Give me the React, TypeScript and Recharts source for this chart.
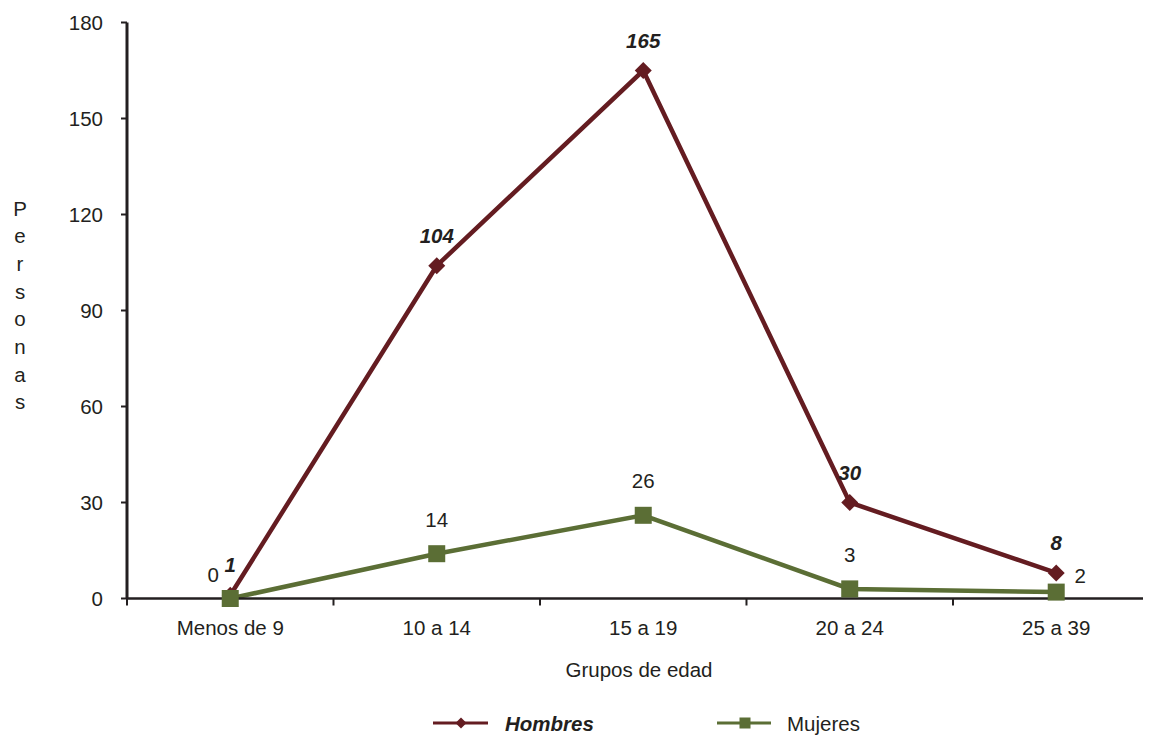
import React from "react";
import {
	LineChart,
	Line,
	XAxis,
	YAxis,
	Legend,
} from "recharts";

const categories = ["Menos de 9", "10 a 14", "15 a 19", "20 a 24", "25 a 39"];
const hombres = [1, 104, 165, 30, 8];
const mujeres = [0, 14, 26, 3, 2];
const yTicks = [0, 30, 60, 90, 120, 150, 180];

const MAROON = "#641C21";
const GREEN = "#5B6E35";
const INK = "#231F20";
const FONT = "'Liberation Sans', Arial, sans-serif";
const FS = 20.5;

// each group sits in the middle of its slot, tick marks go between slots
const data = categories.map((group, i) => ({
	group,
	pos: i + 0.5,
	hombres: hombres[i],
	mujeres: mujeres[i],
}));
const xTicks = categories.flatMap((_, i) => [i, i + 0.5]);

const Diamond = (props: any) => {
	const { cx, cy } = props;
	const r = 8.5;
	return (
		<path
			d={`M${cx},${cy - r}L${cx + r},${cy}L${cx},${cy + r}L${cx - r},${cy}Z`}
			fill={MAROON}
		/>
	);
};

const Square = (props: any) => {
	const { cx, cy } = props;
	const s = 17;
	return <rect x={cx - s / 2} y={cy - s / 2} width={s} height={s} fill={GREEN} />;
};

const XTick = (props: any) => {
	const { x, y, payload } = props;
	const v = payload.value;
	if (Number.isInteger(v)) {
		return <line x1={x} y1={y} x2={x} y2={y + 7} stroke={INK} strokeWidth={2} />;
	}
	return (
		<text x={x} y={y + 36.5} textAnchor="middle" fontSize={FS} fill={INK} fontFamily={FONT}>
			{categories[v - 0.5]}
		</text>
	);
};

const hombresLabel = (props: any) => {
	const { x, y, value } = props;
	return (
		<text
			x={x}
			y={y - 23}
			textAnchor="middle"
			fontSize={FS}
			fontWeight="bold"
			fontStyle="italic"
			fill={INK}
			fontFamily={FONT}
		>
			{value}
		</text>
	);
};

const mujeresLabel = (props: any) => {
	const { x, y, value, index } = props;
	let dx = 0;
	let dy = -27;
	if (index === 0) {
		dx = -17;
		dy = -17;
	} else if (index === categories.length - 1) {
		dx = 24;
		dy = -9;
	}
	return (
		<text x={x + dx} y={y + dy} textAnchor="middle" fontSize={FS} fill={INK} fontFamily={FONT}>
			{value}
		</text>
	);
};

const yLabel = () => (
	<text x={12} textAnchor="middle" fontSize={FS} fill={INK} fontFamily={FONT}>
		{"Personas".split("").map((ch, i) => (
			<tspan key={i} x={12} y={207.5 + i * 27.7}>
				{ch}
			</tspan>
		))}
	</text>
);

const legendContent = () => (
	<svg width={1143} height={28}>
		<line x1={425} y1={13} x2={480} y2={13} stroke={MAROON} strokeWidth={3} />
		<path d="M453,7.5L458.5,13L453,18.5L447.5,13Z" fill={MAROON} />
		<text x={497} y={21} fontSize={FS} fontWeight="bold" fontStyle="italic" fill={INK} fontFamily={FONT}>
			Hombres
		</text>
		<line x1={709} y1={13} x2={763} y2={13} stroke={GREEN} strokeWidth={3} />
		<rect x={731.5} y={7.5} width={11} height={11} fill={GREEN} />
		<text x={779} y={21} fontSize={FS} fill={INK} fontFamily={FONT}>
			Mujeres
		</text>
	</svg>
);

export default function App() {
	return (
		<div style={{ width: 1143, height: 728, fontFamily: FONT }}>
			<LineChart
				width={1143}
				height={728}
				data={data}
				margin={{ top: 14.5, right: 0, left: 0, bottom: 107.5 }}
			>
				<XAxis
					dataKey="pos"
					type="number"
					domain={[0, 4.959]}
					allowDataOverflow
					ticks={xTicks}
					interval={0}
					tick={<XTick />}
					tickLine={false}
					tickSize={0}
					tickMargin={0}
					height={30}
					axisLine={{ stroke: INK, strokeWidth: 2.5 }}
					label={{
						value: "Grupos de edad",
						position: "bottom",
						offset: 34,
						fontSize: FS,
						fill: INK,
						fontFamily: FONT,
					}}
				/>
				<YAxis
					type="number"
					domain={[0, 180]}
					ticks={yTicks}
					interval={0}
					width={119}
					tickSize={6}
					tickMargin={18}
					tick={{ fontSize: FS, fill: INK, fontFamily: FONT }}
					tickLine={{ stroke: INK, strokeWidth: 2 }}
					axisLine={{ stroke: INK, strokeWidth: 3 }}
					label={{ content: yLabel }}
				/>
				<Legend
					verticalAlign="middle"
					align="center"
					layout="horizontal"
					wrapperStyle={{ top: 702, left: 0, width: 1143, height: 28 }}
					content={legendContent}
				/>
				<Line
					dataKey="hombres"
					name="Hombres"
					stroke={MAROON}
					strokeWidth={4.5}
					dot={<Diamond />}
					activeDot={false}
					label={hombresLabel}
					isAnimationActive={false}
				/>
				<Line
					dataKey="mujeres"
					name="Mujeres"
					stroke={GREEN}
					strokeWidth={4.5}
					dot={<Square />}
					activeDot={false}
					label={mujeresLabel}
					isAnimationActive={false}
				/>
			</LineChart>
		</div>
	);
}
